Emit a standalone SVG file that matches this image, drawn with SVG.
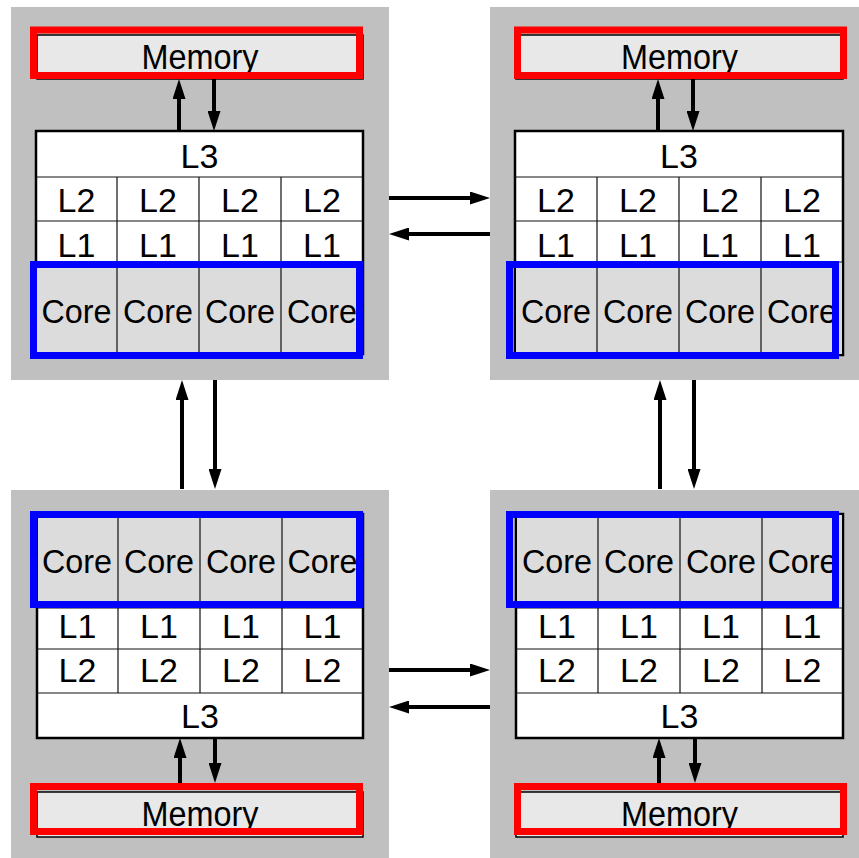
<svg xmlns="http://www.w3.org/2000/svg" width="859" height="858" viewBox="0 0 859 858">
<defs>
<style>
.panel{fill:#c0c0c0}
.mem{fill:#e8e8e8;stroke:#000;stroke-width:1.5}
.red{fill:none;stroke:#ff0000;stroke-width:7}
.blue{fill:none;stroke:#0000ff;stroke-width:7}
.box{fill:#fff;stroke:#000;stroke-width:2.5}
.corefill{fill:#dcdcdc}
.div{stroke:#111;stroke-width:1.2;fill:none}
.t{font-family:"Liberation Sans",Arial,sans-serif;font-size:34px;fill:#000;text-anchor:middle}
.m{font-size:35px}
.arr{stroke:#000;stroke-width:4;fill:none;marker-end:url(#ah)}
</style>
<marker id="ah" markerUnits="userSpaceOnUse" markerWidth="20" markerHeight="13" refX="2" refY="6.5" orient="auto"><path d="M0,0 L20,6.5 L0,13 z" fill="#000"/></marker>
</defs>
<rect width="859" height="858" fill="#fff"/>

<g id="panel-tl">
<rect class="panel" x="11" y="7" width="378" height="373"/>
<g id="mem-tl">
<rect class="mem" x="37" y="35" width="326" height="44"/>
<text class="t m" x="200" y="69" textLength="117" lengthAdjust="spacingAndGlyphs">Memory</text>
<rect class="red" x="33.5" y="30" width="326" height="45.5"/>
</g>
<g id="cache-tl">
<rect class="box" x="36" y="131" width="327" height="223"/>
<rect class="corefill" x="37" y="262" width="325" height="91"/>
<path class="div" d="M36,177H363M36,221H363M36,262H363M117,177V354M199,177V354M281,177V354"/>
<text class="t" x="199.5" y="168">L3</text>
<text class="t" x="76.5" y="212">L2</text><text class="t" x="158" y="212">L2</text><text class="t" x="240" y="212">L2</text><text class="t" x="322" y="212">L2</text>
<text class="t" x="76.5" y="257">L1</text><text class="t" x="158" y="257">L1</text><text class="t" x="240" y="257">L1</text><text class="t" x="322" y="257">L1</text>
<text class="t" x="76.5" y="323" textLength="70" lengthAdjust="spacingAndGlyphs">Core</text><text class="t" x="158" y="323" textLength="70" lengthAdjust="spacingAndGlyphs">Core</text><text class="t" x="240" y="323" textLength="70" lengthAdjust="spacingAndGlyphs">Core</text><text class="t" x="322" y="323" textLength="70" lengthAdjust="spacingAndGlyphs">Core</text>
<rect class="blue" x="33.5" y="264.5" width="326" height="91"/>
</g>
</g>

<g id="panel-tr">
<rect class="panel" x="490" y="7" width="369" height="373"/>
<g id="mem-tr">
<rect class="mem" x="516" y="35" width="327" height="44"/>
<text class="t m" x="679.5" y="69" textLength="117" lengthAdjust="spacingAndGlyphs">Memory</text>
<rect class="red" x="517.5" y="30" width="326" height="45.5"/>
</g>
<g id="cache-tr">
<rect class="box" x="515" y="131" width="328" height="224"/>
<rect class="corefill" x="516" y="262" width="326" height="92"/>
<path class="div" d="M515,177H843M515,221H843M515,262H843M597,177V355M679,177V355M761,177V355"/>
<text class="t" x="679" y="168">L3</text>
<text class="t" x="556" y="212">L2</text><text class="t" x="638" y="212">L2</text><text class="t" x="720" y="212">L2</text><text class="t" x="802" y="212">L2</text>
<text class="t" x="556" y="257">L1</text><text class="t" x="638" y="257">L1</text><text class="t" x="720" y="257">L1</text><text class="t" x="802" y="257">L1</text>
<text class="t" x="556" y="323" textLength="70" lengthAdjust="spacingAndGlyphs">Core</text><text class="t" x="638" y="323" textLength="70" lengthAdjust="spacingAndGlyphs">Core</text><text class="t" x="720" y="323" textLength="70" lengthAdjust="spacingAndGlyphs">Core</text><text class="t" x="802" y="323" textLength="70" lengthAdjust="spacingAndGlyphs">Core</text>
<rect class="blue" x="509.5" y="264.5" width="326" height="91"/>
</g>
</g>

<g id="panel-bl">
<rect class="panel" x="11" y="490" width="378" height="368"/>
<g id="cache-bl">
<rect class="box" x="37" y="514" width="326" height="224"/>
<rect class="corefill" x="38" y="515" width="324" height="93"/>
<path class="div" d="M37,608H363M37,649H363M37,693H363M118,514V693M200,514V693M282,514V693"/>
<text class="t" x="77" y="573" textLength="70" lengthAdjust="spacingAndGlyphs">Core</text><text class="t" x="159" y="573" textLength="70" lengthAdjust="spacingAndGlyphs">Core</text><text class="t" x="241" y="573" textLength="70" lengthAdjust="spacingAndGlyphs">Core</text><text class="t" x="322.5" y="573" textLength="70" lengthAdjust="spacingAndGlyphs">Core</text>
<text class="t" x="77.5" y="638">L1</text><text class="t" x="159" y="638">L1</text><text class="t" x="241" y="638">L1</text><text class="t" x="322.5" y="638">L1</text>
<text class="t" x="77.5" y="682">L2</text><text class="t" x="159" y="682">L2</text><text class="t" x="241" y="682">L2</text><text class="t" x="322.5" y="682">L2</text>
<text class="t" x="200" y="728">L3</text>
<rect class="blue" x="33.5" y="514.5" width="326" height="90"/>
</g>
<g id="mem-bl">
<rect class="mem" x="37" y="792" width="326" height="45"/>
<text class="t m" x="200" y="826" textLength="117" lengthAdjust="spacingAndGlyphs">Memory</text>
<rect class="red" x="33.5" y="786.5" width="326" height="45"/>
</g>
</g>

<g id="panel-br">
<rect class="panel" x="490" y="490" width="369" height="368"/>
<g id="cache-br">
<rect class="box" x="516" y="514" width="327" height="224"/>
<rect class="corefill" x="517" y="515" width="325" height="93"/>
<path class="div" d="M516,608H843M516,649H843M516,693H843M598,514V693M680,514V693M762,514V693"/>
<text class="t" x="557" y="573" textLength="70" lengthAdjust="spacingAndGlyphs">Core</text><text class="t" x="639" y="573" textLength="70" lengthAdjust="spacingAndGlyphs">Core</text><text class="t" x="721" y="573" textLength="70" lengthAdjust="spacingAndGlyphs">Core</text><text class="t" x="802.5" y="573" textLength="70" lengthAdjust="spacingAndGlyphs">Core</text>
<text class="t" x="557" y="638">L1</text><text class="t" x="639" y="638">L1</text><text class="t" x="721" y="638">L1</text><text class="t" x="802.5" y="638">L1</text>
<text class="t" x="557" y="682">L2</text><text class="t" x="639" y="682">L2</text><text class="t" x="721" y="682">L2</text><text class="t" x="802.5" y="682">L2</text>
<text class="t" x="679.5" y="728">L3</text>
<rect class="blue" x="509.5" y="514.5" width="326" height="90"/>
</g>
<g id="mem-br">
<rect class="mem" x="516" y="792" width="327" height="45"/>
<text class="t m" x="679.5" y="826" textLength="117" lengthAdjust="spacingAndGlyphs">Memory</text>
<rect class="red" x="517.5" y="786.5" width="326" height="45"/>
</g>
</g>

<g id="connectors">
<line class="arr" x1="179" y1="131" x2="179" y2="97"/>
<line class="arr" x1="214" y1="79" x2="214" y2="113"/>
<line class="arr" x1="658" y1="131" x2="658" y2="97"/>
<line class="arr" x1="693" y1="79" x2="693" y2="113"/>
<line class="arr" x1="180" y1="783" x2="180" y2="756"/>
<line class="arr" x1="215" y1="738" x2="215" y2="765"/>
<line class="arr" x1="659" y1="783" x2="659" y2="756"/>
<line class="arr" x1="695" y1="738" x2="695" y2="765"/>
<line class="arr" x1="182" y1="489" x2="182" y2="398"/>
<line class="arr" x1="215" y1="380" x2="215" y2="471"/>
<line class="arr" x1="660" y1="489" x2="660" y2="398"/>
<line class="arr" x1="694" y1="380" x2="694" y2="471"/>
<line class="arr" x1="389" y1="198" x2="472" y2="198"/>
<line class="arr" x1="490" y1="234" x2="407" y2="234"/>
<line class="arr" x1="389" y1="670" x2="472" y2="670"/>
<line class="arr" x1="490" y1="707" x2="407" y2="707"/>
</g>
</svg>
